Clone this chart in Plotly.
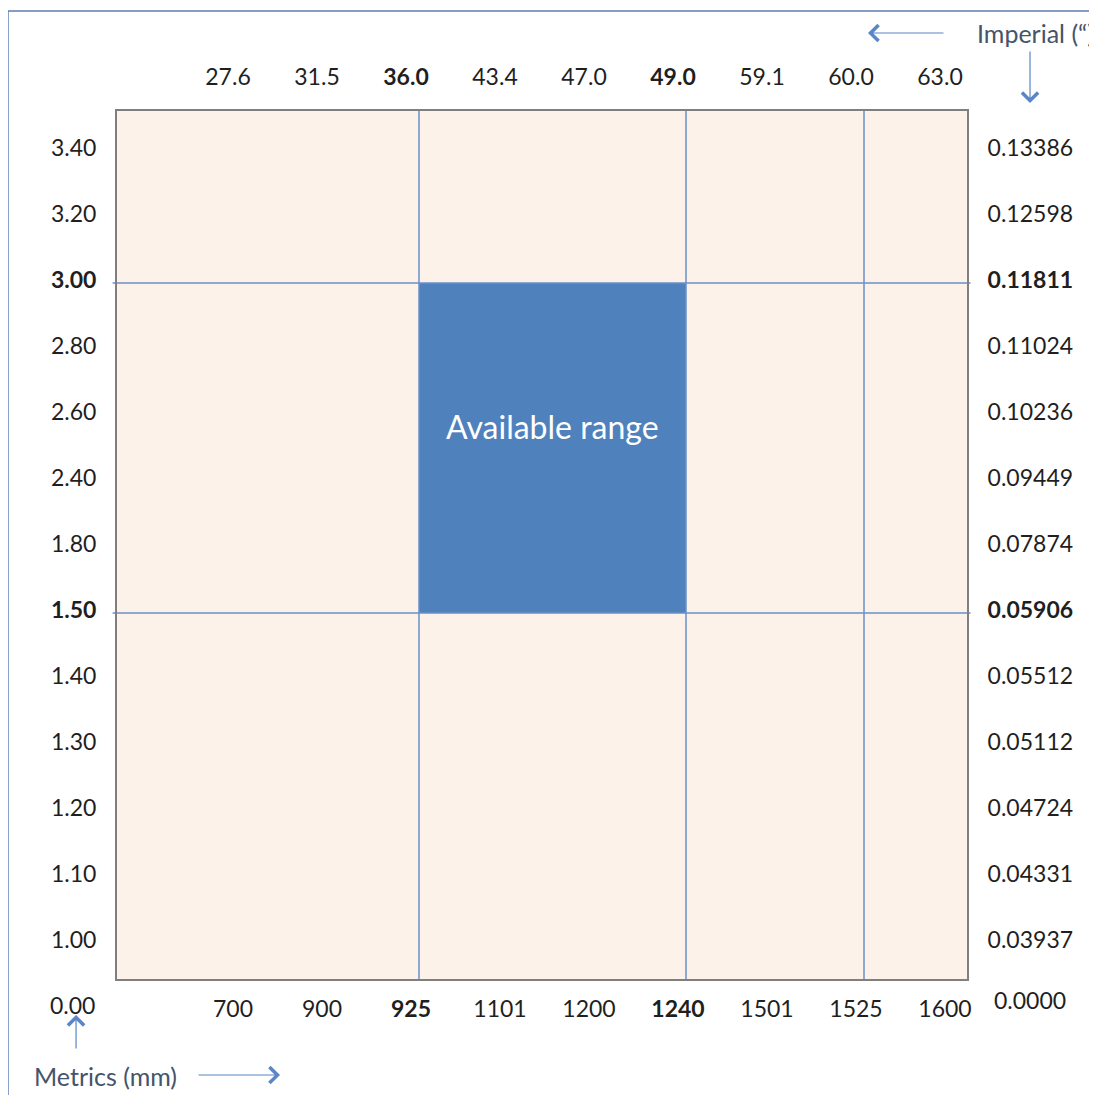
import plotly.graph_objects as go

# ---- data ----
metric_x_labels = ["700", "900", "925", "1101", "1200", "1240", "1501", "1525", "1600"]
imperial_x_labels = ["27.6", "31.5", "36.0", "43.4", "47.0", "49.0", "59.1", "60.0", "63.0"]
metric_y_labels = ["1.00", "1.10", "1.20", "1.30", "1.40", "1.50", "1.80",
                   "2.40", "2.60", "2.80", "3.00", "3.20", "3.40"]
imperial_y_labels = ["0.03937", "0.04331", "0.04724", "0.05112", "0.05512", "0.05906", "0.07874",
                     "0.09449", "0.10236", "0.11024", "0.11811", "0.12598", "0.13386"]
bold_labels = ["925", "1240", "36.0", "49.0", "1.50", "3.00", "0.05906", "0.11811"]
grid_x = ["925", "1240", "1525"]
grid_y = ["1.50", "3.00"]
available_x = ["925", "1240"]
available_y = ["1.50", "3.00"]
origin_metric = "0.00"
origin_imperial = "0.0000"

FONT = "Lato"
TXT = "#1F1F1F"
LINE_BLUE = "#6A8FC9"
RECT_BLUE = "#4F81BD"
NOTE = "#44546A"
ARROW = "#5B86C5"


def fmt(s):
    return f"<b>{s}</b>" if s in bold_labels else s


xi = {s: i + 1 for i, s in enumerate(metric_x_labels)}
yi = {s: i + 1 for i, s in enumerate(metric_y_labels)}
xvals = [xi[s] for s in metric_x_labels]
yvals = [yi[s] for s in metric_y_labels]

XR = [-0.4045, 9.1685]
YR = [0.4394, 13.621]

fig = go.Figure()

# available range rectangle
x0, x1 = xi[available_x[0]], xi[available_x[1]]
y0, y1 = yi[available_y[0]], yi[available_y[1]]
fig.add_trace(go.Scatter(
    x=[x0, x1, x1, x0, x0], y=[y0, y0, y1, y1, y0],
    fill="toself", fillcolor=RECT_BLUE, mode="lines",
    line=dict(width=0), hoverinfo="skip", showlegend=False))
# invisible trace for secondary axes
fig.add_trace(go.Scatter(x=[1], y=[1], xaxis="x2", yaxis="y2", mode="markers",
                         marker=dict(opacity=0), hoverinfo="skip", showlegend=False))

shapes = []
for g in grid_x:
    shapes.append(dict(type="line", xref="x", yref="paper", x0=xi[g], x1=xi[g], y0=0, y1=1,
                       line=dict(color=LINE_BLUE, width=1.5), layer="above"))
for g in grid_y:
    shapes.append(dict(type="line", xref="paper", yref="y", x0=-0.004, x1=1.003, y0=yi[g], y1=yi[g],
                       line=dict(color=LINE_BLUE, width=1.5), layer="above"))
# plot border
shapes.append(dict(type="rect", xref="paper", yref="paper", x0=0, x1=1, y0=0, y1=1,
                   line=dict(color="#7F7F7F", width=2), layer="above"))
# outer frame
shapes.append(dict(type="rect", xref="paper", yref="paper", x0=-0.1268, x1=1.3, y0=-0.2, y1=1.1138,
                   line=dict(color="#5B7DB5", width=1.5), layer="below"))


def note(text, x, y, size, color, anchor="center"):
    return dict(text=text, x=x, y=y, xref="paper", yref="paper", xanchor=anchor, yanchor="middle",
                showarrow=False, font=dict(family=FONT, size=size, color=color))


def arrow(x, y, ax, ay):
    return dict(text="", x=x, y=y, xref="paper", yref="paper", ax=ax, ay=ay,
                showarrow=True, arrowhead=4, arrowsize=2.6, arrowwidth=1.2, arrowcolor=ARROW)


annotations = [
    dict(text="Available range", x=(x0 + x1) / 2, y=(y0 + y1) / 2, xref="x", yref="y",
         yshift=21, showarrow=False, font=dict(family=FONT, size=32, color="white")),
    note(origin_metric, -0.0516, -0.0287, 23, TXT),
    note(origin_imperial, 1.0728, -0.023, 23, TXT),
    note("Imperial (“)", 1.0082, 1.0885, 25, NOTE, anchor="left"),
    note("Metrics (mm)", -0.0129, -0.1103, 25, NOTE),
    arrow(0.8826, 1.0885, 77, 0),
    arrow(1.0728, 1.00805, 0, -53),
    arrow(-0.0469, -0.0402, 0, 35),
    arrow(0.1925, -0.1092, -83, 0),
]

tickfont = dict(family=FONT, size=23, color=TXT)
common = dict(showgrid=False, zeroline=False, showline=False, ticks="outside",
              tickcolor="rgba(0,0,0,0)", tickfont=tickfont, fixedrange=True)

# the page body has an 8px margin, so the figure is offset by 8px
fig.update_layout(
    width=1089, height=1087,
    margin=dict(l=108, r=129, t=102, b=115),
    paper_bgcolor="white", plot_bgcolor="#FDF2E9",
    showlegend=False,
    xaxis=dict(range=XR, tickmode="array", tickvals=xvals,
               ticktext=[fmt(s) for s in metric_x_labels], ticklen=8, ticklabelshift=-8, **common),
    xaxis2=dict(range=XR, overlaying="x", side="top", tickmode="array", tickvals=xvals,
                ticktext=[fmt(s) for s in imperial_x_labels], ticklen=15, ticklabelshift=-13, **common),
    yaxis=dict(range=YR, tickmode="array", tickvals=yvals,
               ticktext=[fmt(s) for s in metric_y_labels], ticklen=14, ticklabelshift=-3, **common),
    yaxis2=dict(range=YR, overlaying="y", side="right", tickmode="array", tickvals=yvals,
                ticktext=[fmt(s) for s in imperial_y_labels], ticklen=14, ticklabelshift=-3, **common),
    shapes=shapes, annotations=annotations,
)

fig.write_html("out.html")
